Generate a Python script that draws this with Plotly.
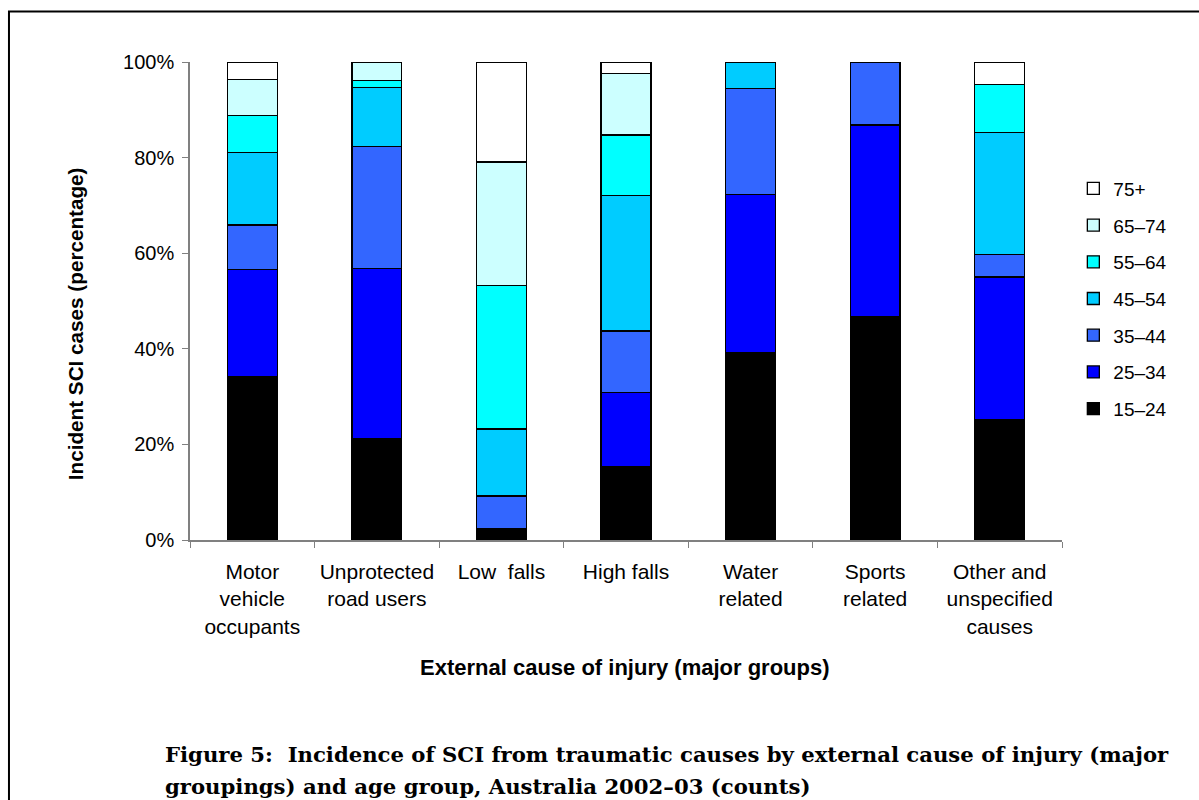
import plotly.graph_objects as go

# Categories of external cause (x axis)
causes = [
    "Motor<br>vehicle<br>occupants",
    "Unprotected<br>road users",
    "Low  falls",
    "High falls",
    "Water<br>related",
    "Sports<br>related",
    "Other and<br>unspecified<br>causes",
]

# Share of incident SCI cases in each age group (per cent of cause total)
age_15_24 = [34.2, 21.3, 2.4, 15.3, 39.1, 46.7, 25.1]
age_25_34 = [22.4, 35.5, None, 15.6, 33.2, 40.1, 29.9]
age_35_44 = [9.3, 25.5, 6.8, 12.8, 22.1, 13.2, 4.8]
age_45_54 = [15.2, 12.4, 14.0, 28.3, 5.6, None, 25.4]
age_55_64 = [7.7, 1.5, 30.1, 12.7, None, None, 10.1]
age_65_74 = [7.6, 3.8, 25.8, 12.9, None, None, None]
age_75_plus = [3.6, None, 20.9, 2.4, None, None, 4.7]

series = [
    ("15–24", age_15_24, "#000000"),
    ("25–34", age_25_34, "#0000FF"),
    ("35–44", age_35_44, "#3366FF"),
    ("45–54", age_45_54, "#00CCFF"),
    ("55–64", age_55_64, "#00FFFF"),
    ("65–74", age_65_74, "#CCFFFF"),
    ("75+", age_75_plus, "#FFFFFF"),
]

SANS = "Liberation Sans, Arial, sans-serif"
SERIF = "DejaVu Serif, serif"

fig = go.Figure()
for i, (name, vals, col) in enumerate(series):
    fig.add_trace(go.Bar(
        x=causes, y=vals, name=name, legendgroup=name,
        legendrank=len(series) - i,  # oldest age group listed first
        marker=dict(color=col, line=dict(color="#000000", width=1.3)),
    ))

fig.update_layout(
    width=1199, height=800,
    barmode="stack", barnorm="percent", bargap=0.6,
    paper_bgcolor="white", plot_bgcolor="white",
    margin=dict(l=190, r=137, t=62, b=260),
    font=dict(family=SANS, size=19, color="#000000"),
    showlegend=True,
    legend=dict(
        x=1.013, xanchor="left", y=0.775, yanchor="top",
        traceorder="grouped", tracegroupgap=9,
        font=dict(family=SANS, size=19), bgcolor="rgba(0,0,0,0)",
    ),
)

fig.update_yaxes(
    range=[0, 100], dtick=20, ticksuffix="%",
    showgrid=False, zeroline=False,
    showline=True, linecolor="#808080", linewidth=1.5,
    ticks="outside", ticklen=6, tickcolor="#808080", ticklabelstandoff=4,
    tickfont=dict(family=SANS, size=20),
)
fig.update_xaxes(
    showgrid=False, showline=True, linecolor="#808080", linewidth=1.5,
    ticks="outside", ticklen=6, tickcolor="#808080", tickson="boundaries",
    ticklabelstandoff=12,
    tickfont=dict(family=SANS, size=21),
)

# Axis titles
fig.add_annotation(
    xref="paper", yref="paper", x=-0.1319, y=0.4535,
    xanchor="center", yanchor="middle", textangle=-90, showarrow=False,
    text="<b>Incident SCI cases (percentage)</b>",
    font=dict(family=SANS, size=20.7),
)
fig.add_annotation(
    xref="paper", yref="paper", x=0.4989, y=-0.2675,
    xanchor="center", yanchor="middle", showarrow=False,
    text="<b>External cause of injury (major groups)</b>",
    font=dict(family=SANS, size=22),
)

# Figure caption below the chart, one annotation per line
caption_lines = [
    "Figure 5:  Incidence of SCI from traumatic causes by external cause of injury (major",
    "groupings) and age group, Australia 2002–03 (counts)",
]
for k, line in enumerate(caption_lines):
    fig.add_annotation(
        xref="paper", yref="paper", x=-0.031, y=(540 - 755 - 32 * k) / 478.5,
        xanchor="left", yanchor="middle", align="left", showarrow=False,
        text="<b>" + line + "</b>",
        font=dict(family=SERIF, size=21.2, color="#000000"),
    )

# Frame around the whole figure
fig.add_shape(
    type="rect", xref="paper", yref="paper",
    x0=-0.2076, y0=-0.7, x1=1.3, y1=1.1055,
    line=dict(color="#000000", width=2), fillcolor="rgba(0,0,0,0)", layer="below",
)

fig.write_html("out.html")
